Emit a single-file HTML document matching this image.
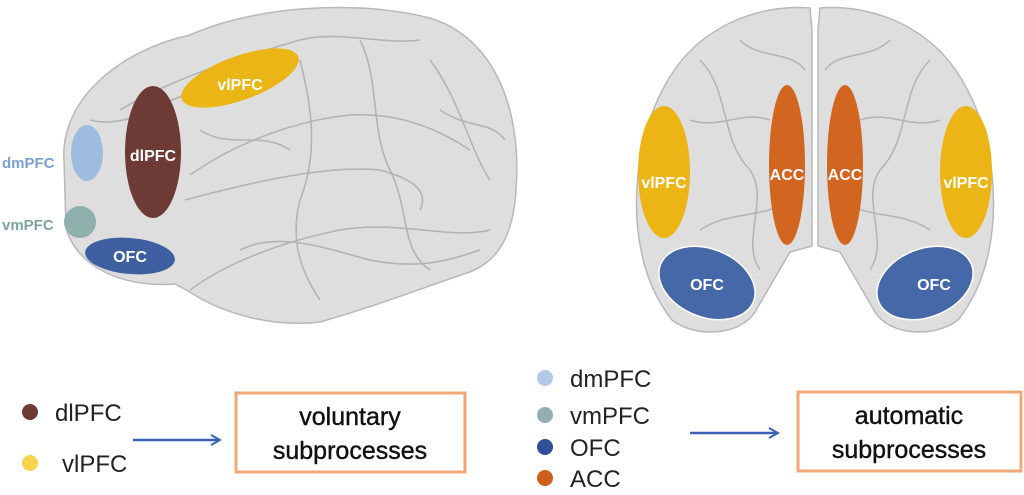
<!DOCTYPE html>
<html><head><meta charset="utf-8"><style>
html,body{margin:0;padding:0;background:#fff;}
body{width:1024px;height:495px;overflow:hidden;position:relative;font-family:"Liberation Sans",sans-serif;}
svg{position:absolute;left:0;top:0;}
</style></head><body>
<svg width="1024" height="495" viewBox="0 0 1024 495" xmlns="http://www.w3.org/2000/svg">
<defs>
<marker id="ah" markerWidth="12" markerHeight="12" refX="10" refY="6" orient="auto" markerUnits="userSpaceOnUse">
<path d="M1,1 L10,6 L1,11" fill="none" stroke="#3a63b8" stroke-width="2"/>
</marker>
</defs>
<!-- left brain -->
<path d="M64,160 C60,100 120,50 190,35 C250,8 350,-2 430,18 C495,38 522,110 516,190 C513,240 495,262 470,272 C430,285 380,305 320,322 C270,328 220,312 190,292 L175,284 C120,288 76,265 66,228 Z" fill="#dedede" stroke="#b8b8b8" stroke-width="1.5"/>
<g fill="none" stroke="#a9a9a9" stroke-width="1.6" opacity="0.8">
<path d="M120,110 C170,80 230,60 300,40 C340,30 380,45 420,40"/>
<path d="M190,175 C240,140 300,120 350,115 C400,112 440,130 470,150"/>
<path d="M185,200 C260,180 330,165 380,170 C410,178 430,190 420,210"/>
<path d="M190,290 C230,260 290,240 340,230 C400,220 450,240 490,230"/>
<path d="M300,60 C310,100 320,150 300,200 C290,240 300,270 320,300"/>
<path d="M360,40 C380,80 370,130 390,170 C410,210 400,250 430,270"/>
<path d="M430,60 C460,100 470,150 490,180"/>
<path d="M90,120 C130,130 160,100 200,90"/>
<path d="M240,250 C280,230 330,250 370,260 C420,270 450,260 480,250"/>
<path d="M200,130 C230,150 260,130 290,150"/>
<path d="M440,110 C470,130 490,120 505,140"/>
</g>
<!-- right brain halves -->
<path d="M810,8 C760,4 700,25 668,80 C644,120 634,170 637,220 C640,262 652,295 672,320 C695,338 740,336 755,312 L790,252 L812,246 L812,30 Z" fill="#dedede" stroke="#b8b8b8" stroke-width="1.5"/>
<path d="M820,8 C870,4 930,25 962,80 C986,120 996,170 993,220 C990,262 978,295 958,320 C935,338 890,336 875,312 L840,252 L818,246 L818,30 Z" fill="#dedede" stroke="#b8b8b8" stroke-width="1.5"/>
<g fill="none" stroke="#a9a9a9" stroke-width="1.5" opacity="0.8">
<path d="M700,60 C730,90 720,140 750,170 C770,200 740,240 760,270"/>
<path d="M690,120 C720,130 740,110 770,120"/>
<path d="M700,230 C730,210 760,220 790,200"/>
<path d="M740,40 C760,60 790,50 805,70"/>
<path d="M930,60 C900,90 910,140 880,170 C860,200 890,240 870,270"/>
<path d="M940,120 C910,130 890,110 860,120"/>
<path d="M930,230 C900,210 870,220 840,200"/>
<path d="M890,40 C870,60 840,50 825,70"/>
</g>
<!-- left regions -->
<ellipse cx="240" cy="78" rx="62" ry="22" transform="rotate(-20 240 78)" fill="#ebb515"/>
<ellipse cx="153" cy="152" rx="28" ry="66" fill="#6e3a36"/>
<ellipse cx="87" cy="153" rx="16" ry="28" fill="#9dbce0"/>
<circle cx="80" cy="222" r="16" fill="#8fb0ad"/>
<ellipse cx="130" cy="256" rx="45" ry="18" transform="rotate(5 130 256)" fill="#3e60a0"/>
<g font-family="Liberation Sans,sans-serif" font-weight="bold" font-size="16" fill="#fff" text-anchor="middle">
<text x="240" y="90">vlPFC</text>
<text x="153" y="161">dlPFC</text>
<text x="130" y="262">OFC</text>
</g>
<text x="2" y="168" font-family="Liberation Sans,sans-serif" font-weight="bold" font-size="15" fill="#7b9fd0">dmPFC</text>
<text x="2" y="230" font-family="Liberation Sans,sans-serif" font-weight="bold" font-size="15" fill="#7fa3a0">vmPFC</text>
<!-- right regions -->
<ellipse cx="664" cy="172" rx="26" ry="66" fill="#ebb515"/>
<ellipse cx="966" cy="172" rx="26" ry="66" fill="#ebb515"/>
<ellipse cx="787" cy="165" rx="18" ry="80" fill="#d2651f"/>
<ellipse cx="845" cy="165" rx="18" ry="80" fill="#d2651f"/>
<ellipse cx="707" cy="283" rx="50" ry="34" transform="rotate(22 707 283)" fill="#4468a8" stroke="#fff" stroke-width="1.5"/>
<ellipse cx="925" cy="283" rx="50" ry="34" transform="rotate(-22 925 283)" fill="#4468a8" stroke="#fff" stroke-width="1.5"/>
<g font-family="Liberation Sans,sans-serif" font-weight="bold" font-size="16" fill="#fff" text-anchor="middle">
<text x="664" y="188">vlPFC</text>
<text x="966" y="188">vlPFC</text>
<text x="787" y="180">ACC</text>
<text x="845" y="180">ACC</text>
<text x="707" y="290">OFC</text>
<text x="934" y="290">OFC</text>
</g>
<!-- legend left -->
<circle cx="30" cy="412" r="8" fill="#6e3a36"/>
<circle cx="30" cy="463" r="8" fill="#f7d44e"/>
<g font-family="Liberation Sans,sans-serif" font-size="24" fill="#222">
<text x="55" y="421">dlPFC</text>
<text x="62" y="472">vlPFC</text>
<text x="570" y="387">dmPFC</text>
<text x="570" y="424">vmPFC</text>
<text x="570" y="456">OFC</text>
<text x="570" y="487">ACC</text>
</g>
<circle cx="545" cy="378" r="8" fill="#b3c8e8"/>
<circle cx="545" cy="415" r="8" fill="#93aeae"/>
<circle cx="545" cy="447" r="8" fill="#2f4f96"/>
<circle cx="545" cy="478" r="8" fill="#cf5f1e"/>
<!-- arrows -->
<line x1="133" y1="440" x2="220" y2="440" stroke="#3a63b8" stroke-width="2.5" marker-end="url(#ah)"/>
<line x1="690" y1="433" x2="778" y2="433" stroke="#3a63b8" stroke-width="2.5" marker-end="url(#ah)"/>
<!-- boxes -->
<rect x="236" y="393" width="229" height="79" fill="#fff" stroke="#f0a77a" stroke-width="3"/>
<rect x="798" y="392" width="223" height="79" fill="#fff" stroke="#f0a77a" stroke-width="3"/>
<g font-family="Liberation Sans,sans-serif" font-size="25" fill="#111" text-anchor="middle" stroke="#111" stroke-width="0.4">
<text x="350" y="425">voluntary</text>
<text x="350" y="459">subprocesses</text>
<text x="909" y="424">automatic</text>
<text x="909" y="458">subprocesses</text>
</g>
</svg>
</body></html>
